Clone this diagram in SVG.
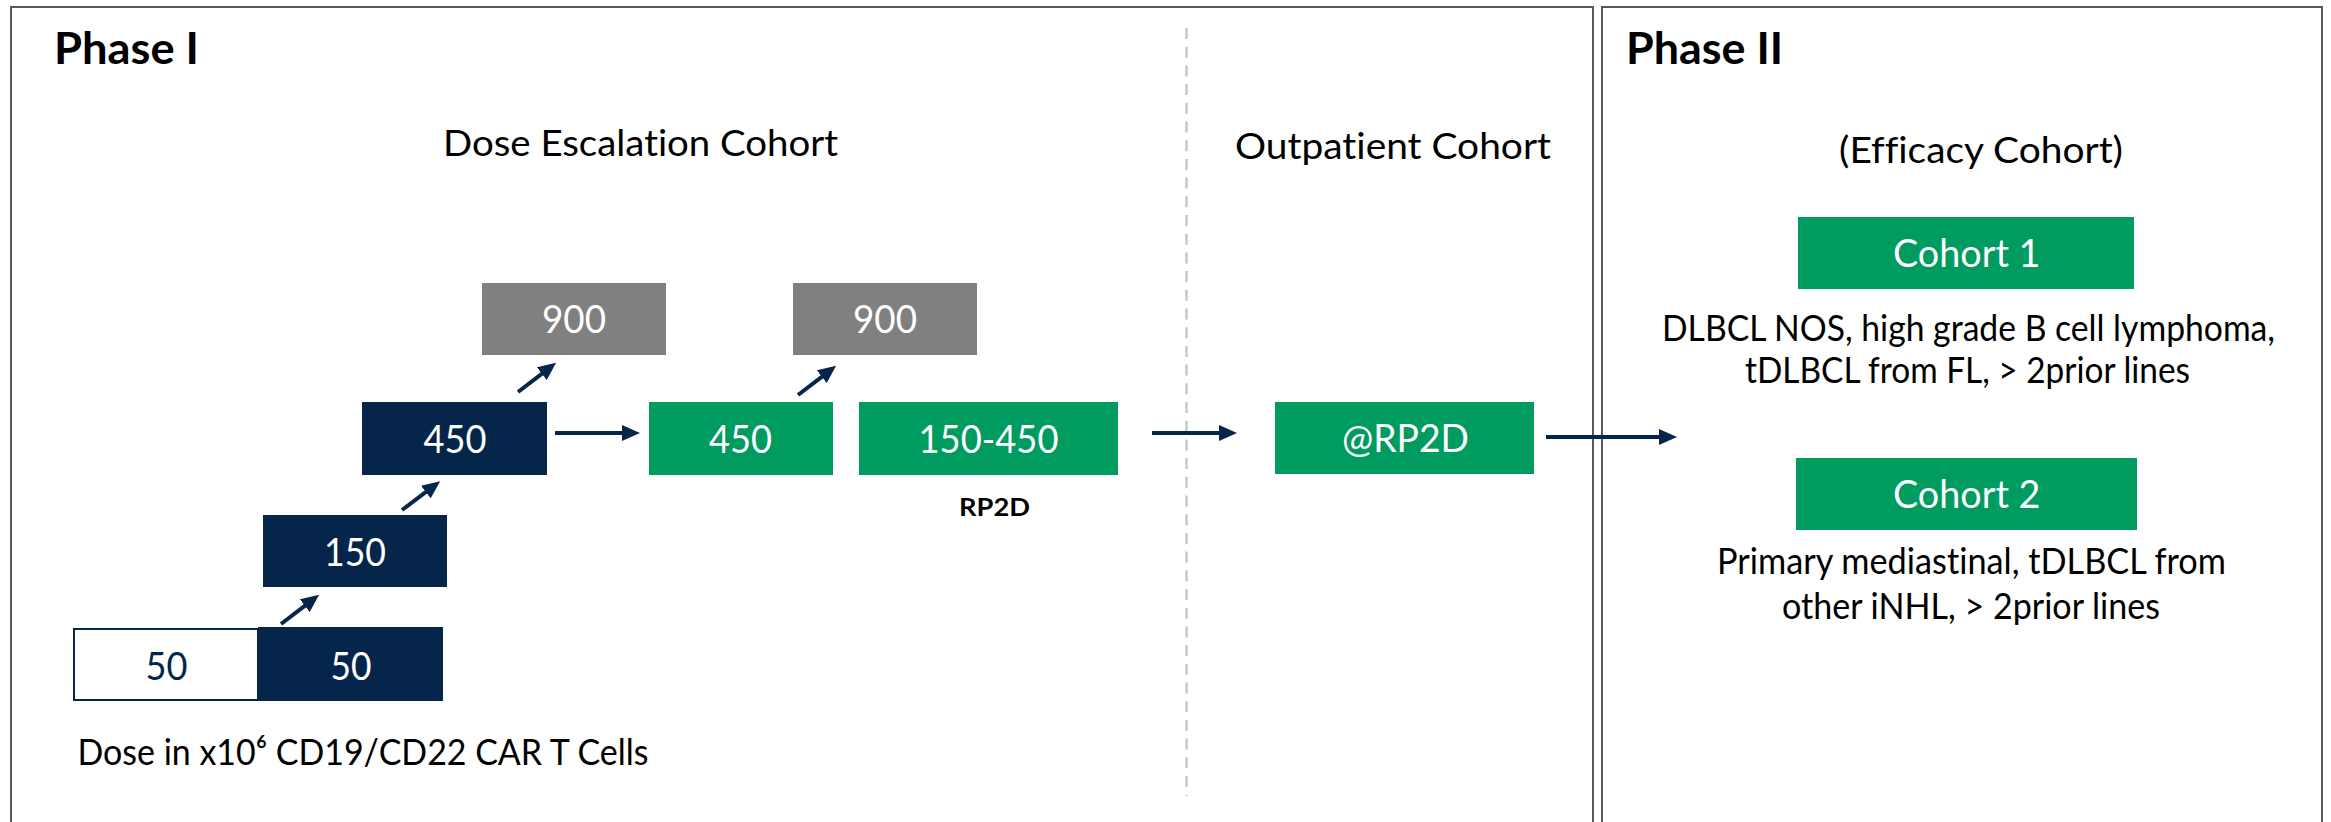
<svg xmlns="http://www.w3.org/2000/svg" width="2331" height="822" viewBox="0 0 2331 822">
<style>
text{font-family:Lato,"Open Sans","Liberation Sans",sans-serif;font-variant-ligatures:none;font-feature-settings:"liga" 0;}
.panel{fill:none;stroke:#595959;stroke-width:2;}
.navy{fill:#05264A;}
.green{fill:#009B5F;}
.gray{fill:#808080;}
.lbl{font-size:36px;fill:#000;}
.box{font-size:39px;fill:#fff;}
.head{font-size:44px;font-weight:bold;fill:#000;}
.arr{stroke:#05264A;stroke-width:4;fill:none;marker-end:url(#ah);}
</style>
<defs>
<marker id="ah" markerUnits="userSpaceOnUse" markerWidth="18" markerHeight="16" refX="4" refY="8" orient="auto">
<path d="M0,0 L18,8 L0,16 z" fill="#05264A"/>
</marker>
</defs>
<rect width="2331" height="822" fill="#fff"/>
<g id="phase1">
<rect class="panel" x="11" y="7" width="1582" height="840"/>
<text class="head" x="54" y="64" textLength="145" lengthAdjust="spacingAndGlyphs">Phase I</text>
<text class="lbl" x="443" y="156" textLength="395" lengthAdjust="spacingAndGlyphs">Dose Escalation Cohort</text>
<text class="lbl" x="1235" y="159" textLength="316" lengthAdjust="spacingAndGlyphs">Outpatient Cohort</text>
<line x1="1186.5" y1="28" x2="1186.5" y2="796" stroke="#c8c8c8" stroke-width="2.5" stroke-dasharray="11 7.7"/>
<text class="lbl" x="77.5" y="765" textLength="571" lengthAdjust="spacingAndGlyphs">Dose in x10⁶ CD19/CD22 CAR T Cells</text>
</g>
<g id="phase2">
<rect class="panel" x="1602" y="7" width="720" height="840"/>
<text class="head" x="1626" y="64" textLength="157" lengthAdjust="spacingAndGlyphs">Phase II</text>
<text class="lbl" x="1839" y="163" textLength="284" lengthAdjust="spacingAndGlyphs">(Efficacy Cohort)</text>
</g>
<g id="n50a">
<rect x="74" y="629" width="184" height="71" fill="#fff" stroke="#05264A" stroke-width="2"/>
<text class="box" x="145.5" y="680" textLength="42" lengthAdjust="spacingAndGlyphs" style="fill:#05264A">50</text>
</g>
<g id="n50b">
<rect class="navy" x="258" y="627" width="185" height="74"/>
<text class="box" x="330.5" y="680" textLength="41" lengthAdjust="spacingAndGlyphs">50</text>
</g>
<g id="n150">
<rect class="navy" x="263" y="515" width="184" height="72"/>
<text class="box" x="324" y="566" textLength="62" lengthAdjust="spacingAndGlyphs">150</text>
</g>
<g id="n450a">
<rect class="navy" x="362" y="402" width="185" height="73"/>
<text class="box" x="423.5" y="453" textLength="63" lengthAdjust="spacingAndGlyphs">450</text>
</g>
<g id="n900a">
<rect class="gray" x="482" y="283" width="184" height="72"/>
<text class="box" x="542" y="333" textLength="64" lengthAdjust="spacingAndGlyphs">900</text>
</g>
<g id="n450b">
<rect class="green" x="649" y="402" width="184" height="73"/>
<text class="box" x="709" y="453" textLength="63" lengthAdjust="spacingAndGlyphs">450</text>
</g>
<g id="n900b">
<rect class="gray" x="793" y="283" width="184" height="72"/>
<text class="box" x="853" y="333" textLength="64" lengthAdjust="spacingAndGlyphs">900</text>
</g>
<g id="nrp2d">
<rect class="green" x="859" y="402" width="259" height="73"/>
<text class="box" x="918.5" y="453" textLength="140" lengthAdjust="spacingAndGlyphs">150-450</text>
<text x="959" y="516" font-size="25" font-weight="bold" fill="#000" textLength="71" lengthAdjust="spacingAndGlyphs">RP2D</text>
</g>
<g id="nout">
<rect class="green" x="1275" y="402" width="259" height="72"/>
<text class="box" x="1342" y="452" textLength="127" lengthAdjust="spacingAndGlyphs">@RP2D</text>
</g>
<g id="ncohort1">
<rect class="green" x="1798" y="217" width="336" height="72"/>
<text class="box" x="1893" y="267" textLength="147.5" lengthAdjust="spacingAndGlyphs">Cohort 1</text>
<text class="lbl" x="1662" y="341" textLength="613" lengthAdjust="spacingAndGlyphs">DLBCL NOS, high grade B cell lymphoma,</text>
<text class="lbl" x="1745" y="383" textLength="445" lengthAdjust="spacingAndGlyphs">tDLBCL from FL, &gt; 2prior lines</text>
</g>
<g id="ncohort2">
<rect class="green" x="1796" y="458" width="341" height="72"/>
<text class="box" x="1893" y="508" textLength="147.5" lengthAdjust="spacingAndGlyphs">Cohort 2</text>
<text class="lbl" x="1717" y="574" textLength="509" lengthAdjust="spacingAndGlyphs">Primary mediastinal, tDLBCL from</text>
<text class="lbl" x="1782" y="619" textLength="378" lengthAdjust="spacingAndGlyphs">other iNHL, &gt; 2prior lines</text>
</g>
<g id="connectors">
<line class="arr" x1="281" y1="624" x2="308" y2="603.3"/>
<line class="arr" x1="402" y1="510" x2="429" y2="489.6"/>
<line class="arr" x1="518" y1="392" x2="545" y2="371.3"/>
<line class="arr" x1="798" y1="395" x2="825" y2="374.3"/>
<line class="arr" x1="555" y1="433" x2="626" y2="433"/>
<line class="arr" x1="1152" y1="433" x2="1223" y2="433"/>
<line class="arr" x1="1546" y1="437" x2="1663" y2="437"/>
</g>
</svg>
